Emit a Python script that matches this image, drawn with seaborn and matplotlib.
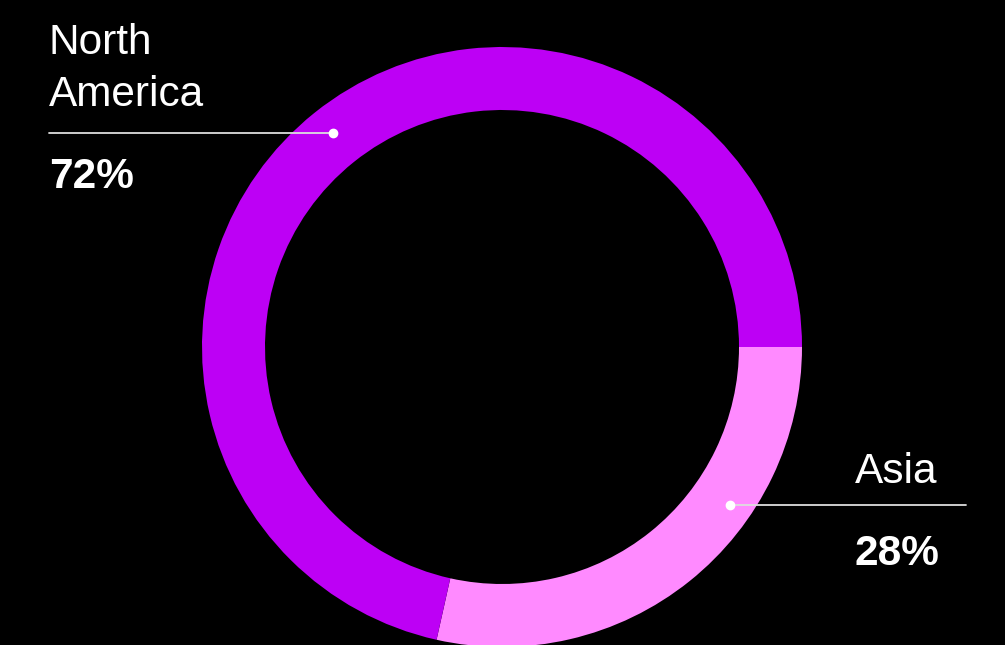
import matplotlib.pyplot as plt
import seaborn as sns

# data
regions = ['Asia', 'North America']
shares = [28.5, 71.5]
share_labels = ['28%', '72%']
colors = ['#FF8AFF', '#BD00F5']

sns.set_theme(style='white')
plt.rcParams['font.family'] = ['Liberation Sans', 'DejaVu Sans']

fig = plt.figure(figsize=(10.05, 6.45), dpi=100, facecolor='black')
ax = fig.add_axes([0, 0, 1, 1])
ax.set_facecolor('black')

# ring, Asia starts at 3 o'clock and runs clockwise
H = 645
cx, cy, R = 502, H - 347, 300
ax.pie(shares, colors=colors, startangle=0, counterclock=False,
       center=(cx, cy), radius=R, frame=True,
       wedgeprops=dict(width=63, linewidth=0))

ax.set_xlim(0, 1005)
ax.set_ylim(0, H)
ax.set_aspect('equal')
ax.axis('off')

fs = 30.5

# North America label
ax.text(49, H - 106, 'North\nAmerica', color='white', fontsize=fs,
        ha='left', va='baseline', linespacing=1.4)
ax.plot([49, 333], [H - 133, H - 133], color='#dddddd', lw=1.3)
ax.plot(333, H - 133, 'o', color='white', ms=6)
ax.text(49, H - 188, share_labels[1], color='white', fontsize=fs,
        fontweight='bold', ha='left', va='baseline')

# Asia label
ax.text(855, H - 483, regions[0], color='white', fontsize=fs,
        ha='left', va='baseline')
ax.plot([730, 966], [H - 505, H - 505], color='#dddddd', lw=1.3)
ax.plot(730, H - 505, 'o', color='white', ms=6)
ax.text(855, H - 565, share_labels[0], color='white', fontsize=fs,
        fontweight='bold', ha='left', va='baseline')

fig.savefig('out.png', dpi=100, facecolor='black')
